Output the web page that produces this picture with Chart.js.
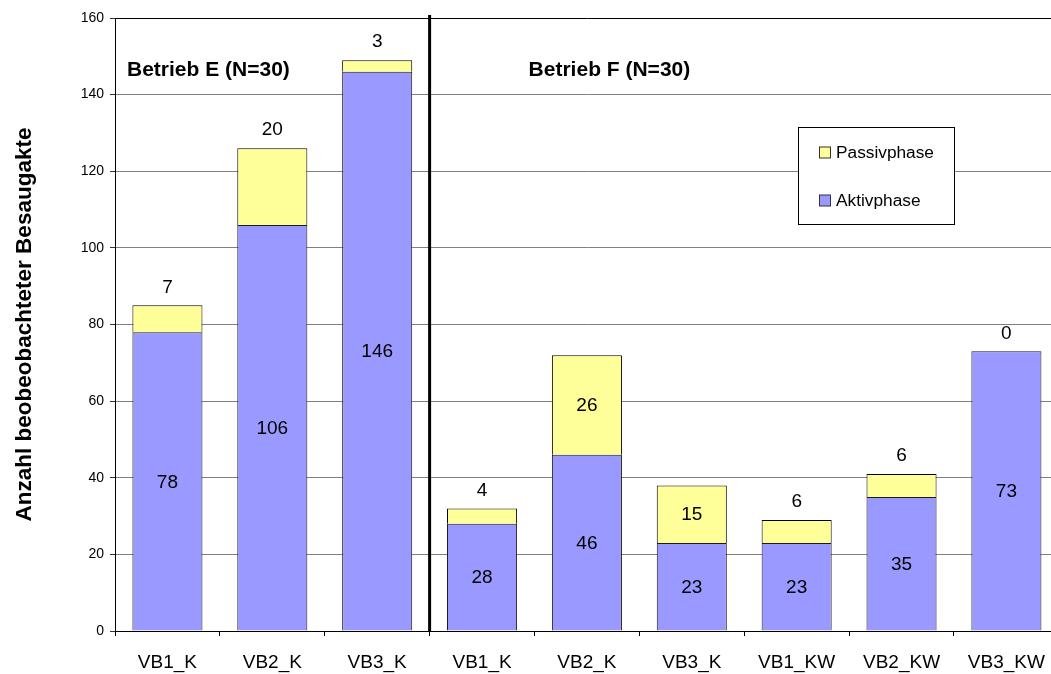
<!DOCTYPE html>
<html lang="de">
<head>
<meta charset="utf-8">
<title>Besaugakte je Betrieb</title>
<script src="https://cdn.jsdelivr.net/npm/chart.js@4"></script>
<style>
  html, body { margin: 0; padding: 0; background: #fff; overflow: hidden; }
  #wrap { position: absolute; left: 0; top: 0; width: 1060px; height: 674px; }
</style>
</head>
<body>
<div id="wrap"><canvas id="chart" width="1060" height="674"></canvas></div>
<script>
// Kategorien (Versuchsbuchten) und Werte der beiden Phasen
const categories = ['VB1_K', 'VB2_K', 'VB3_K', 'VB1_K', 'VB2_K', 'VB3_K', 'VB1_KW', 'VB2_KW', 'VB3_KW'];
const aktivphase = [78, 106, 146, 28, 46, 23, 23, 35, 73];
const passivphase = [7, 20, 3, 4, 26, 15, 6, 6, 0];
const groupTitles = ['Betrieb E (N=30)', 'Betrieb F (N=30)'];
const yAxisTitle = 'Anzahl beobeobachteter Besaugakte';

// Passivphase-Werte, die im Balken statt darüber stehen
const passivInside = [4, 5];

const FONT = '"Liberation Sans", Arial, sans-serif';
const BLUE = '#9999FF';
const YELLOW = '#FFFF99';

// Trennlinie, Gruppentitel, Legende und Wertbeschriftungen
const decorations = {
  id: 'decorations',
  afterDatasetsDraw(chart) {
    const ctx = chart.ctx;
    const area = chart.chartArea;
    const x = chart.scales.x;
    const y = chart.scales.y;

    // Werte an den Balken
    ctx.save();
    ctx.fillStyle = '#000';
    ctx.font = '19px ' + FONT;
    ctx.textAlign = 'center';
    ctx.textBaseline = 'middle';
    const metaA = chart.getDatasetMeta(0);
    const metaP = chart.getDatasetMeta(1);
    metaA.data.forEach((bar, i) => {
      ctx.fillText(String(aktivphase[i]), bar.x, (bar.y + bar.base) / 2 + 1);
    });
    metaP.data.forEach((bar, i) => {
      const top = Math.min(bar.y, bar.base);
      if (passivInside.includes(i)) {
        ctx.fillText(String(passivphase[i]), bar.x, (bar.y + bar.base) / 2 + 1);
      } else {
        ctx.fillText(String(passivphase[i]), bar.x, top - 18);
      }
    });
    ctx.restore();

    // Trennlinie zwischen Betrieb E und F
    const sepX = (x.getPixelForValue(2) + x.getPixelForValue(3)) / 2;
    ctx.save();
    ctx.strokeStyle = '#000';
    ctx.lineWidth = 3;
    ctx.beginPath();
    ctx.moveTo(sepX, area.top - 3);
    ctx.lineTo(sepX, area.bottom);
    ctx.stroke();
    ctx.restore();

    // Gruppentitel
    ctx.save();
    ctx.fillStyle = '#000';
    ctx.font = 'bold 21px ' + FONT;
    ctx.textAlign = 'left';
    ctx.textBaseline = 'middle';
    ctx.fillText(groupTitles[0], area.left + 12, y.getPixelForValue(146.3));
    ctx.fillText(groupTitles[1], sepX + 99, y.getPixelForValue(146.3));
    ctx.restore();

    // Legende
    const lx = 798, ly = 127, lw = 156, lh = 97;
    ctx.save();
    ctx.fillStyle = '#fff';
    ctx.fillRect(lx, ly, lw, lh);
    ctx.strokeStyle = '#000';
    ctx.lineWidth = 1;
    ctx.strokeRect(lx + 0.5, ly + 0.5, lw, lh);
    const items = [
      { label: chart.data.datasets[1].label, color: YELLOW, cy: 152.5 },
      { label: chart.data.datasets[0].label, color: BLUE, cy: 200.5 }
    ];
    ctx.font = '17.3px ' + FONT;
    ctx.textBaseline = 'middle';
    ctx.textAlign = 'left';
    items.forEach(it => {
      ctx.fillStyle = it.color;
      ctx.fillRect(819.5, it.cy - 5.5, 11, 11);
      ctx.strokeStyle = '#333';
      ctx.strokeRect(819.5, it.cy - 5.5, 11, 11);
      ctx.fillStyle = '#000';
      ctx.fillText(it.label, 836, it.cy + 1);
    });
    ctx.restore();
  }
};

new Chart(document.getElementById('chart'), {
  type: 'bar',
  data: {
    labels: categories,
    datasets: [
      {
        label: 'Aktivphase',
        data: aktivphase,
        backgroundColor: BLUE,
        borderColor: '#1a1a1a',
        borderWidth: 1,
        barPercentage: 0.668,
        categoryPercentage: 1
      },
      {
        label: 'Passivphase',
        data: passivphase,
        backgroundColor: YELLOW,
        borderColor: '#000',
        borderWidth: 1,
        barPercentage: 0.668,
        categoryPercentage: 1
      }
    ]
  },
  options: {
    responsive: false,
    animation: false,
    devicePixelRatio: 1,
    layout: { padding: { top: 18, right: 1, bottom: 0, left: 0 } },
    plugins: {
      legend: { display: false },
      tooltip: { enabled: false },
      title: { display: false }
    },
    scales: {
      x: {
        stacked: true,
        grid: {
          display: true,
          drawOnChartArea: false,
          drawTicks: true,
          tickLength: 5,
          color: '#000',
          offset: true
        },
        border: { display: true, color: '#000', width: 1 },
        ticks: {
          color: '#000',
          font: { family: FONT, size: 19 },
          padding: 15,
          maxRotation: 0,
          autoSkip: false
        },
        afterFit(scale) { scale.height = 43; }
      },
      y: {
        stacked: true,
        min: 0,
        max: 160,
        grid: {
          color: ctx => (ctx.tick && ctx.tick.value === 160 ? '#000' : '#808080'),
          tickColor: '#333',
          tickLength: 5,
          lineWidth: 1
        },
        border: { display: true, color: '#000', width: 1 },
        ticks: {
          stepSize: 20,
          color: '#000',
          font: { family: FONT, size: 14 },
          padding: 6
        },
        title: {
          display: true,
          text: yAxisTitle,
          color: '#000',
          font: { family: FONT, size: 22.5, weight: 'bold' },
          padding: { top: 11, bottom: 0 }
        },
        afterFit(scale) { scale.width = 115; }
      }
    }
  },
  plugins: [decorations]
});
</script>
</body>
</html>
